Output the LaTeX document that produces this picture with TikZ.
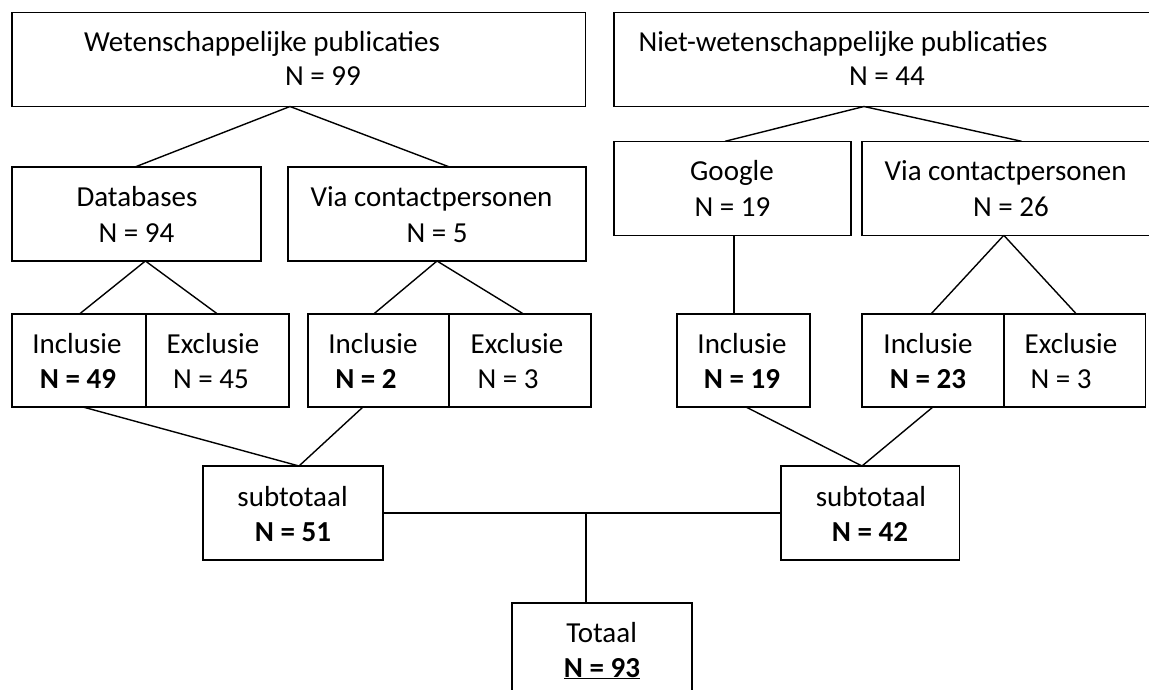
\documentclass[tikz,border=0pt]{standalone}
\usepackage{fontspec}
\setmainfont{Carlito}
\begin{document}
\begin{tikzpicture}[x=1pt,y=-1pt,
  box/.style={draw, line width=1.4pt, inner sep=0pt, outer sep=0pt, minimum height=94pt},
  lbl/.style={anchor=base, inner sep=0pt, font=\fontsize{29}{34}\selectfont},
  con/.style={line width=1.4pt}]
\useasboundingbox (0,0) rectangle (1149,690);
\fill[white] (0,0) rectangle (1149,690);
\clip (0,0) rectangle (1149,690);
% boxes
\node[box, minimum width=573.5pt] (w)  at (298.75,59.5) {};
\node[box, minimum width=551pt]   (nw) at (889.5,59.5) {};
\node[box, minimum width=249pt]   (db) at (136.5,214) {};
\node[box, minimum width=298pt]   (vc1) at (437,214) {};
\node[box, minimum width=237pt]   (g)  at (732.5,188.3) {};
\node[box, minimum width=303pt]   (vc2) at (1013.5,188.3) {};
\node[box, minimum width=134pt, minimum height=93pt] (i1) at (79,360.5) {};
\node[box, minimum width=143pt, minimum height=93pt] (e1) at (217.5,360.5) {};
\node[box, minimum width=141pt, minimum height=93pt] (i2) at (378.5,360.5) {};
\node[box, minimum width=142pt, minimum height=93pt] (e2) at (520,360.5) {};
\node[box, minimum width=133pt, minimum height=93pt] (i3) at (743.5,360.5) {};
\node[box, minimum width=141.8pt, minimum height=93pt] (i4) at (932.9,360.5) {};
\node[box, minimum width=141.9pt, minimum height=93pt] (e4) at (1074.75,360.5) {};
\node[box, minimum width=180pt]   (st1) at (293,513) {};
\node[box, minimum width=178.5pt] (st2) at (870.25,513) {};
\node[box, minimum width=180pt, minimum height=97pt] (tot) at (602,651.5) {};
% labels
\node[lbl] (tw1) at (262,52) {Wetenschappelijke publicaties};
\node[lbl] (tw2) at (323,86) {N = 99};
\node[lbl] (tn1) at (843,52) {Niet-wetenschappelijke publicaties};
\node[lbl] (tn2) at (887,86) {N = 44};
\node[lbl] (tdb1) at (137,207) {Databases};
\node[lbl] (tdb2) at (136.5,242) {N = 94};
\node[lbl] (tv1) at (431.5,207) {Via contactpersonen};
\node[lbl] (tv2) at (437,242) {N = 5};
\node[lbl] (tg1) at (732,180) {Google};
\node[lbl] (tg2) at (732.5,216) {N = 19};
\node[lbl] (tvc1) at (1005.6,180) {Via contactpersonen};
\node[lbl] (tvc2) at (1011,216) {N = 26};
\node[lbl] (ti1a) at (77,353) {Inclusie};
\node[lbl] (ti1b) at (78,388) {\bfseries N = 49};
\node[lbl] (te1a) at (213,353) {Exclusie};
\node[lbl] (te1b) at (211,388) {N = 45};
\node[lbl] (ti2a) at (373,353) {Inclusie};
\node[lbl] (ti2b) at (366,388) {\bfseries N = 2};
\node[lbl] (te2a) at (517,353) {Exclusie};
\node[lbl] (te2b) at (508,388) {N = 3};
\node[lbl] (ti3a) at (742,353) {Inclusie};
\node[lbl] (ti3b) at (742,388) {\bfseries N = 19};
\node[lbl] (ti4a) at (928,353) {Inclusie};
\node[lbl] (ti4b) at (928,388) {\bfseries N = 23};
\node[lbl] (te4a) at (1071,353) {Exclusie};
\node[lbl] (te4b) at (1061,388) {N = 3};
\node[lbl] (ts1a) at (292.6,506) {subtotaal};
\node[lbl] (ts1b) at (293,541) {\bfseries N = 51};
\node[lbl] (ts2a) at (871,506) {subtotaal};
\node[lbl] (ts2b) at (870,541) {\bfseries N = 42};
\node[lbl] (tt1) at (601.6,642) {Totaal};
\node[lbl] (tt2) at (602,677) {\bfseries\underline{N = 93}};
% connectors
\draw[con] ([xshift=-8.75pt]w.south) -- ([xshift=-1.5pt]db.north);
\draw[con] ([xshift=-8.75pt]w.south) -- ([xshift=12.5pt]vc1.north);
\draw[con] ([xshift=8.9pt]db.south) -- ([xshift=0.5pt]i1.north);
\draw[con] ([xshift=8.9pt]db.south) -- (e1.north);
\draw[con] (vc1.south) -- ([xshift=-4.8pt]i2.north);
\draw[con] (vc1.south) -- ([xshift=3.5pt]e2.north);
\draw[con] ([xshift=-25.5pt]nw.south) -- ([xshift=-7.5pt]g.north);
\draw[con] ([xshift=-25.5pt]nw.south) -- ([xshift=8.1pt]vc2.north);
\draw[con] ([xshift=1.5pt]g.south) -- ([xshift=-9.5pt]i3.north);
\draw[con] ([xshift=-9.7pt]vc2.south) -- ([xshift=-1.9pt]i4.north);
\draw[con] ([xshift=-9.7pt]vc2.south) -- ([xshift=1.65pt]e4.north);
\draw[con] ([xshift=4pt]i1.south) -- ([xshift=6pt]st1.north);
\draw[con] ([xshift=-15.5pt]i2.south) -- ([xshift=6pt]st1.north);
\draw[con] ([xshift=2.5pt]i3.south) -- ([xshift=-8.25pt]st2.north);
\draw[con] (i4.south) -- ([xshift=-8.25pt]st2.north);
\draw[con] (st1.east) -- (st2.west);
\coordinate (j) at (586,513);
\draw[con] (j) -- (tot.north -| j);
\end{tikzpicture}
\end{document}
